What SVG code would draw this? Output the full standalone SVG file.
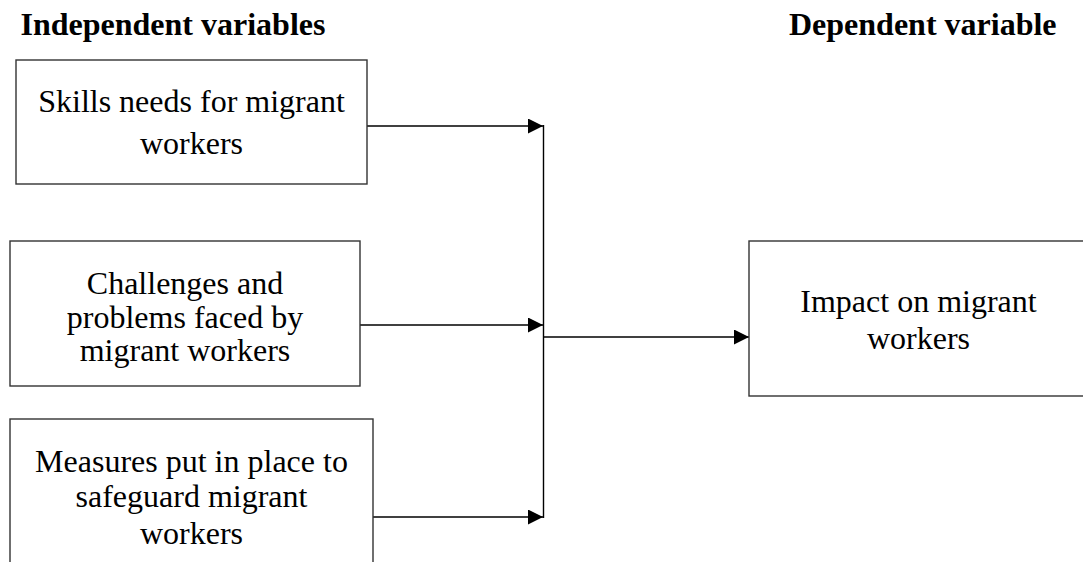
<svg xmlns="http://www.w3.org/2000/svg" width="1083" height="562" viewBox="0 0 1083 562">
<defs>
<style>
.box{fill:#fff;stroke:#333;stroke-width:1.4}
.t{font-family:"Liberation Serif","Times New Roman",serif;font-size:32px;fill:#000;text-anchor:middle}
.h{font-family:"Liberation Serif","Times New Roman",serif;font-size:32px;font-weight:bold;fill:#000}
.c{fill:none;stroke:#000;stroke-width:1.4}
</style>
<marker id="ah" viewBox="0 0 15 15" refX="15" refY="7.5" markerWidth="15" markerHeight="15" markerUnits="userSpaceOnUse" orient="auto">
<path d="M0,0 L15,7.5 L0,15 z" fill="#000"/>
</marker>
</defs>
<rect width="1083" height="562" fill="#fff"/>
<text class="h" x="20.5" y="35">Independent variables</text>
<text class="h" x="789" y="35">Dependent variable</text>
<g id="connectors">
<line class="c" x1="367" y1="126" x2="543" y2="126" marker-end="url(#ah)"/>
<line class="c" x1="360" y1="325" x2="543" y2="325" marker-end="url(#ah)"/>
<line class="c" x1="373" y1="517" x2="543" y2="517" marker-end="url(#ah)"/>
<line class="c" x1="543.5" y1="125" x2="543.5" y2="518"/>
<line class="c" x1="543.5" y1="337" x2="749" y2="337" marker-end="url(#ah)"/>
</g>
<g id="node-skills">
<rect class="box" x="16" y="60" width="351" height="124"/>
<text class="t" x="191.5" y="112">Skills needs for migrant</text>
<text class="t" x="191.5" y="154">workers</text>
</g>
<g id="node-challenges">
<rect class="box" x="10" y="241" width="350" height="145"/>
<text class="t" x="185" y="294">Challenges and</text>
<text class="t" x="185" y="328">problems faced by</text>
<text class="t" x="185" y="361">migrant workers</text>
</g>
<g id="node-measures">
<rect class="box" x="10" y="419" width="363" height="160"/>
<text class="t" x="191.5" y="471.5">Measures put in place to</text>
<text class="t" x="191.5" y="507">safeguard migrant</text>
<text class="t" x="191.5" y="544">workers</text>
</g>
<g id="node-impact">
<rect class="box" x="749" y="241" width="340" height="155"/>
<text class="t" x="918.5" y="312">Impact on migrant</text>
<text class="t" x="918.5" y="349">workers</text>
</g>
</svg>
